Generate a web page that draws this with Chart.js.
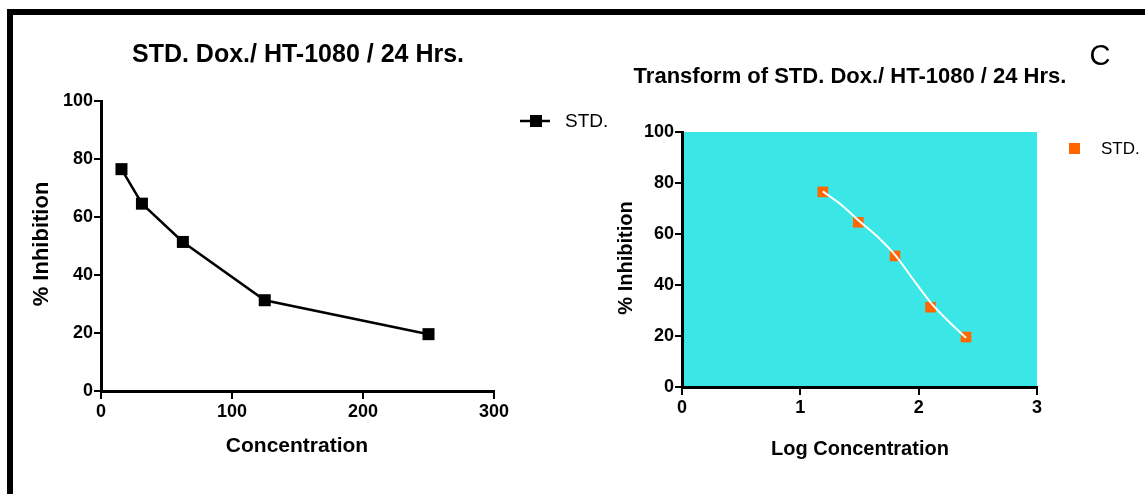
<!DOCTYPE html>
<html>
<head>
<meta charset="utf-8">
<script src="https://cdn.jsdelivr.net/npm/chart.js"></script>
<style>
  html, body { margin: 0; padding: 0; background: #fff; }
  body { width: 1145px; height: 494px; position: relative; overflow: hidden; }
  #frame { position: absolute; left: 7px; top: 9px; width: 1200px; height: 600px;
           border-top: 6px solid #000; border-left: 6px solid #000; }
  .box { position: absolute; top: 0; }
</style>
</head>
<body>
<div id="frame"></div>
<div class="box" style="left:0"><canvas id="chartLeft" width="640" height="494"></canvas></div>
<div class="box" style="left:600px"><canvas id="chartRight" width="545" height="494"></canvas></div>
<script>
// data
const concentration = [15.625, 31.25, 62.5, 125, 250];
const logConcentration = [1.19, 1.49, 1.80, 2.10, 2.40];
const inhibition = [76.5, 64.6, 51.4, 31.3, 19.6];

// the white fitted curve, read along its path
const fitLogConc = [1.19, 1.35, 1.5, 1.65, 1.8, 1.95, 2.1, 2.25, 2.4];
const fitInhibition = [76.7, 71.3, 65.0, 59.0, 51.8, 42.4, 33.2, 25.9, 19.3];

const concTicks = [0, 100, 200, 300];
const logTicks = [0, 1, 2, 3];
const inhibitionTicks = [0, 20, 40, 60, 80, 100];

const FONT = "'Liberation Sans', Arial, sans-serif";
const ORANGE = '#ff6600';
const CYAN = '#3ae6e6';

function pts(xs, ys) {
  return xs.map((x, i) => ({ x: x, y: ys[i] }));
}

function axis(ticks, fit, isX) {
  return {
    type: 'linear',
    min: ticks[0],
    max: ticks[ticks.length - 1],
    afterFit: s => { if (isX) s.height = fit; else s.width = fit; },
    afterBuildTicks: s => { s.ticks = ticks.map(v => ({ value: v })); },
    border: { display: true, color: '#000', width: 3 },
    grid: { display: true, drawOnChartArea: false, drawTicks: true,
            tickLength: isX ? 8 : 7, color: '#000', lineWidth: 2 },
    ticks: { color: '#000', padding: isX ? 2 : 1, autoSkip: false,
             maxRotation: 0, font: { family: FONT, size: 18, weight: 'bold' } }
  };
}

// titles, axis titles, legend and plot background
const decor = {
  id: 'decor',
  beforeDraw(chart, args, o) {
    const a = chart.chartArea;
    if (o.fill) {
      chart.ctx.save();
      chart.ctx.fillStyle = o.fill;
      chart.ctx.fillRect(a.left, a.top, a.right - a.left, a.bottom - a.top);
      chart.ctx.restore();
    }
  },
  afterDraw(chart, args, o) {
    const ctx = chart.ctx;
    ctx.save();
    ctx.fillStyle = '#000';
    ctx.textAlign = 'center';
    ctx.textBaseline = 'middle';
    o.texts.forEach(t => {
      ctx.font = t.font;
      if (t.rot) {
        ctx.save();
        ctx.translate(t.x, t.y);
        ctx.rotate(-Math.PI / 2);
        ctx.fillText(t.text, 0, 0);
        ctx.restore();
      } else {
        ctx.fillText(t.text, t.x, t.y);
      }
    });
    const lg = o.legend;
    const ds = chart.data.datasets[lg.dataset];
    if (lg.line) {
      ctx.strokeStyle = ds.borderColor;
      ctx.lineWidth = ds.borderWidth;
      ctx.beginPath();
      ctx.moveTo(lg.x - 16, lg.y);
      ctx.lineTo(lg.x + 14, lg.y);
      ctx.stroke();
    }
    ctx.fillStyle = ds.pointBackgroundColor;
    ctx.fillRect(lg.x - lg.size / 2, lg.y - lg.size / 2, lg.size, lg.size);
    ctx.fillStyle = '#000';
    ctx.textAlign = 'left';
    ctx.font = lg.font;
    ctx.fillText(lg.label, lg.tx, lg.y + 1);
    ctx.restore();
  }
};

new Chart(document.getElementById('chartLeft'), {
  type: 'scatter',
  data: {
    datasets: [{
      label: 'STD.',
      data: pts(concentration, inhibition),
      showLine: true,
      borderColor: '#000',
      borderWidth: 2.5,
      pointStyle: 'rect',
      pointRadius: 8.5,
      pointBackgroundColor: '#000',
      pointBorderColor: '#000',
      pointBorderWidth: 0
    }]
  },
  options: {
    responsive: false,
    animation: false,
    layout: { padding: { left: 51, right: 146, top: 101, bottom: 73 } },
    scales: {
      x: axis(concTicks, 30, true),
      y: axis(inhibitionTicks, 50, false)
    },
    plugins: {
      legend: { display: false },
      tooltip: { enabled: false },
      decor: {
        texts: [
          { text: 'STD. Dox./ HT-1080 / 24 Hrs.', x: 298, y: 55, font: 'bold 25px ' + FONT },
          { text: '% Inhibition', x: 42, y: 244, rot: true, font: 'bold 22px ' + FONT },
          { text: 'Concentration', x: 297, y: 446, font: 'bold 21px ' + FONT }
        ],
        legend: { dataset: 0, line: true, x: 536, y: 121, size: 12, tx: 565,
                  label: 'STD.', font: '19px ' + FONT }
      }
    }
  },
  plugins: [decor]
});

new Chart(document.getElementById('chartRight'), {
  type: 'scatter',
  data: {
    datasets: [{
      label: 'STD.',
      data: pts(logConcentration, inhibition),
      showLine: false,
      pointStyle: 'rect',
      pointRadius: 7.5,
      pointBackgroundColor: ORANGE,
      pointBorderColor: ORANGE,
      pointBorderWidth: 0,
      order: 1
    }, {
      label: 'fit',
      data: pts(fitLogConc, fitInhibition),
      showLine: true,
      borderColor: '#fff',
      borderWidth: 2,
      pointRadius: 0,
      cubicInterpolationMode: 'monotone',
      order: 0
    }]
  },
  options: {
    responsive: false,
    animation: false,
    layout: { padding: { left: 32, right: 108, top: 132, bottom: 77 } },
    scales: {
      x: axis(logTicks, 30, true),
      y: axis(inhibitionTicks, 50, false)
    },
    plugins: {
      legend: { display: false },
      tooltip: { enabled: false },
      decor: {
        fill: CYAN,
        texts: [
          { text: 'Transform of STD. Dox./ HT-1080 / 24 Hrs.', x: 250, y: 77, font: 'bold 22px ' + FONT },
          { text: 'C', x: 500, y: 57, font: '29px ' + FONT },
          { text: '% Inhibition', x: 26, y: 258, rot: true, font: 'bold 20px ' + FONT },
          { text: 'Log Concentration', x: 260, y: 449, font: 'bold 20px ' + FONT }
        ],
        legend: { dataset: 0, line: false, x: 474.5, y: 148.5, size: 11, tx: 1101 - 600,
                  label: 'STD.', font: '17px ' + FONT }
      }
    }
  },
  plugins: [decor]
});
</script>
</body>
</html>
